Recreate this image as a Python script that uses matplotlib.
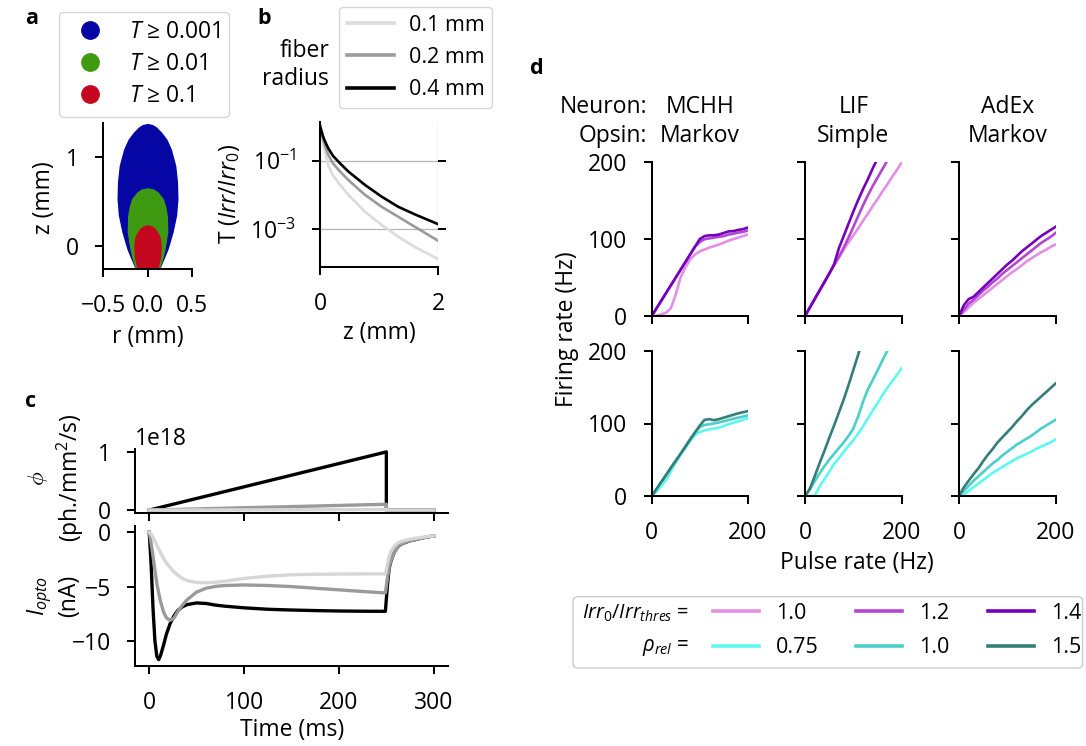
import numpy as np
import matplotlib
matplotlib.use("Agg")
import matplotlib.pyplot as plt
from matplotlib.lines import Line2D
from matplotlib.patches import FancyBboxPatch
from matplotlib.ticker import NullLocator

# ---------------- data ----------------
# panel a: half-widths (mm) of the iso-transmittance regions vs depth z (mm)
blue_z = [-0.26, -0.14, -0.03, 0.157, 0.345, 0.53, 0.72, 0.906, 1.09, 1.2, 1.28, 1.34, 1.365, 1.38]
blue_w = [0.138, 0.19, 0.235, 0.29, 0.33, 0.345, 0.34, 0.32, 0.27, 0.22, 0.16, 0.1, 0.06, 0.0]
green_z = [-0.26, -0.14, -0.03, 0.157, 0.345, 0.45, 0.53, 0.607, 0.64, 0.655]
green_w = [0.135, 0.175, 0.2, 0.23, 0.225, 0.205, 0.18, 0.12, 0.07, 0.0]
red_z = [-0.26, -0.14, -0.03, 0.05, 0.12, 0.195, 0.225, 0.24]
red_w = [0.118, 0.147, 0.156, 0.152, 0.137, 0.09, 0.05, 0.0]
a_labels = ['$T$ ≥ 0.001', '$T$ ≥ 0.01', '$T$ ≥ 0.1']

# panel b: transmittance vs depth for three fiber radii
z_b = [0, 0.02, 0.05, 0.09, 0.14, 0.22, 0.34, 0.48, 0.76, 1.04, 1.32, 1.6, 2.0]
T_r01 = [0.76, 0.55, 0.33, 0.16, 0.074, 0.037, 0.0195, 0.010, 0.0032, 0.00132, 0.0006, 0.0003, 0.000132]
T_r02 = [0.89, 0.68, 0.44, 0.26, 0.148, 0.083, 0.048, 0.027, 0.010, 0.0045, 0.0023, 0.00117, 0.00045]
T_r04 = [1.07, 0.79, 0.52, 0.35, 0.23, 0.138, 0.083, 0.048, 0.0195, 0.0089, 0.0045, 0.0027, 0.00138]
b_labels = ['0.1 mm', '0.2 mm', '0.4 mm']

# panel c: light ramp and opsin current
phi_t = [0, 250, 250, 300]
phi_hi = [0, 1.0e18, 0, 0]
phi_mid = [0, 0.1e18, 0, 0]
phi_lo = [0, 0.01e18, 0, 0]
t_c = [0, 2, 4, 6, 8, 10, 12, 15, 18, 22, 26, 30, 35, 40, 50, 60, 70, 80, 100, 125,
       150, 175, 200, 225, 249, 251, 253, 255, 258, 262, 266, 270, 275, 280, 290, 300]
I_hi = [0, -3, -7, -10, -11.4, -11.7, -11.3, -10.4, -9.4, -8.4, -7.7, -7.2, -6.85, -6.65, -6.5,
        -6.55, -6.7, -6.8, -6.95, -7.08, -7.15, -7.2, -7.24, -7.26, -7.27, -5.0, -3.3, -2.6,
        -1.9, -1.35, -1.1, -0.95, -0.8, -0.7, -0.5, -0.35]
I_mid = [0, -1.0, -2.2, -3.5, -4.7, -5.6, -6.4, -7.3, -7.85, -8.1, -7.9, -7.3, -6.7, -6.2, -5.5,
         -5.15, -4.98, -4.9, -4.85, -4.9, -5.0, -5.15, -5.3, -5.45, -5.58, -4.3, -3.2, -2.55,
         -1.9, -1.35, -1.1, -0.93, -0.8, -0.7, -0.5, -0.35]
I_lo = [0, -0.2, -0.5, -0.85, -1.2, -1.55, -1.9, -2.4, -2.8, -3.25, -3.65, -3.95, -4.25, -4.45,
        -4.62, -4.65, -4.6, -4.5, -4.25, -4.05, -3.92, -3.87, -3.85, -3.84, -3.84, -3.0, -2.2,
        -1.75, -1.35, -1.0, -0.85, -0.75, -0.65, -0.58, -0.45, -0.35]

# panel d: firing rate vs pulse rate
pulse = [0, 10, 20, 30, 40, 50, 60, 70, 80, 90, 100, 110, 120, 130, 140, 150, 160, 170, 180, 190, 200]
neurons = ['MCHH', 'LIF', 'AdEx']
opsins = ['Markov', 'Simple', 'Markov']
irr_labels = ['1.0', '1.2', '1.4']
rho_labels = ['0.75', '1.0', '1.5']
# row 1: Irr0/Irr_thres = 1.0, 1.2, 1.4
mchh_irr = [
    [0, 0.5, 2, 4.5, 10, 28, 50, 63, 73.5, 80, 84, 86.5, 89, 91, 93, 95.5, 98, 100, 102, 104, 106],
    [0, 10, 20, 30, 40, 50, 60, 70, 80, 90, 96, 100, 101, 102, 103, 104, 106, 107, 108.5, 109.5, 111],
    [0, 10, 20, 30, 40, 50, 60, 70, 80, 90, 100, 104, 105, 105, 106, 108, 110, 110.5, 112, 113, 115],
]
lif_irr = [
    [0, 11, 22, 33, 44, 55, 66, 76, 86, 96, 105, 114, 124, 133, 143, 152, 162, 171, 181, 190, 200],
    [0, 11, 22, 33, 44, 55, 66, 77, 89, 102, 116, 130, 144, 157, 169, 180, 191, 202, 213, 224, 235],
    [0, 11, 22, 33, 44, 55, 67, 88, 104, 120, 136, 151, 165, 178, 192, 205, 218, 231, 244, 257, 270],
]
adex_irr = [
    [0, 5, 11, 17, 22, 27, 32, 37, 42, 47, 52, 57, 61, 66, 71, 75, 79, 83, 86, 90, 93],
    [0, 8, 16, 21, 27, 33, 38, 44, 49, 55, 60, 65, 70, 75, 80, 85, 90, 95, 99, 103, 108],
    [0, 14, 22, 25, 31, 37, 43, 49, 55, 61, 67, 72, 78, 84, 89, 94, 99, 104, 108, 112, 116],
]
# row 2: rho_rel = 0.75, 1.0, 1.5
mchh_rho = [
    [0, 6, 14, 22, 34, 46, 57, 66, 76, 84, 88, 90.5, 92, 93, 94, 96.5, 99, 101, 103, 105, 107],
    [0, 9.7, 19.5, 29, 39, 48.5, 58, 68, 78, 87, 95, 98, 99, 100, 101.5, 103, 105, 106.5, 108, 109.5, 111],
    [0, 9.7, 19.5, 29, 39, 48.5, 58, 68, 78, 87.5, 97, 105, 106, 104.5, 106, 108, 110, 112, 114, 115.5, 117],
]
lif_rho = [
    [0, 0, 0, 13, 23, 33, 44, 52, 61, 69, 77, 86, 96, 107, 118, 128, 139, 149, 158, 167, 176],
    [0, 9, 20, 31, 41, 50, 58, 66, 74, 83, 93, 110, 130, 147, 160, 173, 187, 200, 213, 226, 239],
    [0, 10, 27, 45, 62, 80, 97, 115, 133, 153, 174, 195, 216, 237, 258, 279, 300, 321, 342, 363, 384],
]
adex_rho = [
    [0, 2, 7, 12, 17, 22, 27, 32, 36, 40, 44, 48, 52, 55, 58, 61, 65, 68, 71, 74, 78],
    [0, 7, 14, 21, 27, 33, 39, 45, 50, 56, 61, 66, 71, 75, 79, 83, 88, 93, 97, 101, 105],
    [0, 12, 21, 30, 38, 48, 57, 65, 74, 81, 88, 95, 103, 110, 118, 125, 131, 137, 143, 149, 155],
]

# ---------------- style ----------------
FS = 16.5
LFS = 15.5
plt.rcParams.update({
    'font.family': ['Open Sans', 'DejaVu Sans'],
    'font.size': FS,
    'mathtext.fontset': 'custom',
    'mathtext.rm': 'Open Sans',
    'mathtext.it': 'Open Sans:italic',
    'mathtext.bf': 'Open Sans:bold',
    'axes.linewidth': 1.45,
    'xtick.major.size': 6, 'ytick.major.size': 6,
    'xtick.major.width': 1.45, 'ytick.major.width': 1.45,
    'xtick.major.pad': 12.0, 'ytick.major.pad': 11.5,
    'legend.edgecolor': '#cccccc',
})

W, H = 1086, 746
fig = plt.figure(figsize=(W / 100, H / 100), dpi=100)


def add_ax(x0, y0, x1, y1):
    return fig.add_axes([x0 / W, 1 - y1 / H, (x1 - x0) / W, (y1 - y0) / H])


def fx(x):
    return x / W


def fy(y):
    return 1 - y / H


def despine(ax):
    ax.spines['top'].set_visible(False)
    ax.spines['right'].set_visible(False)


# ---------------- panel a ----------------
c_blue, c_green, c_red = '#0606a4', '#3e9a10', '#c5081f'
ax = add_ax(103.3, 123.3, 191.7, 269)
for z, w, c in [(blue_z, blue_w, c_blue), (green_z, green_w, c_green), (red_z, red_w, c_red)]:
    ax.fill_betweenx(z, -np.asarray(w), w, color=c, lw=0)
ax.set_xlim(-0.5, 0.5)
ax.set_ylim(-0.26, 1.38)
ax.set_xticks([-0.5, 0, 0.5])
ax.set_yticks([0, 1])
despine(ax)
hs = [Line2D([], [], ls='none', marker='o', ms=12.5, color=c) for c in (c_blue, c_green, c_red)]
ax.legend(hs, a_labels, loc='upper left', bbox_to_anchor=(fx(59), fy(11.7)),
          bbox_transform=fig.transFigure, borderaxespad=0, borderpad=0.36,
          handlelength=2.0, handletextpad=0.69, labelspacing=0.36)
fig.text(fx(147.5), fy(337), 'r (mm)', ha='center', va='center')
fig.text(fx(44), fy(198), 'z (mm)', ha='center', va='center', rotation=90)

# ---------------- panel b ----------------
ax = add_ax(320, 121.7, 438.3, 266.7)
b_cols = ['#dcdcdc', '#9b9b9b', '#000000']
for T, c in zip([T_r01, T_r02, T_r04], b_cols):
    ax.plot(z_b, T, color=c, lw=1.9)
ax.set_yscale('log')
ax.set_xlim(0, 2)
ax.set_ylim(7.9e-5, 1.38)
ax.set_xticks([0, 2])
ax.set_yticks([1e-1, 1e-3])
ax.yaxis.set_minor_locator(NullLocator())
ax.grid(True, color='#b5b5b5', lw=0.9)
ax.tick_params(axis='y', right=True)
despine(ax)
hb = [Line2D([], [], color=c, lw=2.6) for c in b_cols]
ax.legend(hb, b_labels, loc='upper left', bbox_to_anchor=(fx(339), fy(7)),
          bbox_transform=fig.transFigure, borderaxespad=0, borderpad=0.36, fontsize=LFS,
          handlelength=2.2, handletextpad=0.68, labelspacing=0.52)
fig.text(fx(329), fy(65), 'fiber\nradius', ha='right', va='center', multialignment='right')
fig.text(fx(379), fy(333), 'z (mm)', ha='center', va='center')
fig.text(fx(230), fy(194), r'T ($Irr/Irr_0$)', ha='center', va='center', rotation=90)

# ---------------- panel c ----------------
c_cols = ['#000000', '#9a9a9a', '#d6d6d6']
ax1 = add_ax(135, 449, 448, 513)
for y, c in zip([phi_hi, phi_mid, phi_lo], c_cols):
    ax1.plot(phi_t, y, color=c, lw=2.4)
ax1.set_xticks([0, 100, 200, 300])
ax1.set_xticklabels([])
ax1.set_yticks([0, 1e18])
despine(ax1)
ax2 = add_ax(135, 525.7, 448, 666)
for y, c in zip([I_hi, I_mid, I_lo], c_cols):
    ax2.plot(t_c, y, color=c, lw=2.4)
ax2.set_xticks([0, 100, 200, 300])
ax2.set_yticks([0, -5, -10])
ax2.set_xlim(ax1.get_xlim())
despine(ax2)
fig.text(fx(56), fy(478), '$\\phi$\n(ph./mm$^2$/s)', ha='center', va='center', rotation=90)
fig.text(fx(53), fy(596), '$I_{opto}$\n(nA)', ha='center', va='center', rotation=90)
fig.text(fx(291.7), fy(730), 'Time (ms)', ha='center', va='center')

# ---------------- panel d ----------------
irr_cols = ['#e28fe4', '#b446cf', '#7400bd']
rho_cols = ['#5ef8f0', '#4ccfc9', '#347e79']
col_x = [(651.7, 747.7), (805, 901.7), (959, 1055.5)]
row_y = [(162.3, 316), (351, 496)]
row_data = [[mchh_irr, lif_irr, adex_irr], [mchh_rho, lif_rho, adex_rho]]
row_cols = [irr_cols, rho_cols]
for r in range(2):
    for c in range(3):
        ax = add_ax(col_x[c][0], row_y[r][0], col_x[c][1], row_y[r][1])
        for ys, col in zip(row_data[r][c], row_cols[r]):
            ax.plot(pulse, ys, color=col, lw=1.9)
        ax.set_xlim(0, 200)
        ax.set_ylim(0, 200)
        ax.set_xticks([0, 200])
        ax.set_yticks([0, 100, 200])
        if r == 0:
            ax.set_xticklabels([])
        if c > 0:
            ax.set_yticklabels([])
        despine(ax)
for c in range(3):
    xc = (col_x[c][0] + col_x[c][1]) / 2
    fig.text(fx(xc), fy(112.7), neurons[c], ha='center', va='baseline')
    fig.text(fx(xc), fy(141.7), opsins[c], ha='center', va='baseline')
fig.text(fx(647), fy(112.7), 'Neuron:', ha='right', va='baseline')
fig.text(fx(647), fy(141.7), 'Opsin:', ha='right', va='baseline')
fig.text(fx(567), fy(329), 'Firing rate (Hz)', ha='center', va='center', rotation=90)
fig.text(fx(857), fy(563), 'Pulse rate (Hz)', ha='center', va='center')

# legend of panel d (frame + one small legend per column)
frame = FancyBboxPatch((fx(573), fy(668)), fx(1082.6) - fx(573), fy(596.7) - fy(668),
                       boxstyle='round,pad=0,rounding_size=0.005', transform=fig.transFigure,
                       facecolor='white', edgecolor='#cccccc', lw=1.0, zorder=1)
fig.patches.append(frame)
leg_x = [712.7, 855.7, 987.9]
for k in range(3):
    hd = [Line2D([], [], color=irr_cols[k], lw=2.6), Line2D([], [], color=rho_cols[k], lw=2.6)]
    fig.legend(hd, [irr_labels[k], rho_labels[k]], ncol=1, frameon=False, loc='center left',
               bbox_to_anchor=(fx(leg_x[k]), fy(630.7)), borderpad=0, borderaxespad=0,
               fontsize=LFS, handlelength=2.15, handletextpad=0.8, labelspacing=0.62)
fig.text(fx(689.4), fy(613.8), r'$Irr_0/Irr_{thres}$ =', ha='right', va='center', fontsize=14.3)
fig.text(fx(689.4), fy(647.5), r'$\rho_{rel}$ =', ha='right', va='center', fontsize=14.8)

# panel letters
for letter, x, y in [('a', 25, 8), ('b', 257, 8), ('c', 25, 391), ('d', 530, 58)]:
    fig.text(fx(x), fy(y), letter, ha='left', va='top', fontweight='bold', fontsize=15.5)

fig.savefig('out.png', dpi=100)
